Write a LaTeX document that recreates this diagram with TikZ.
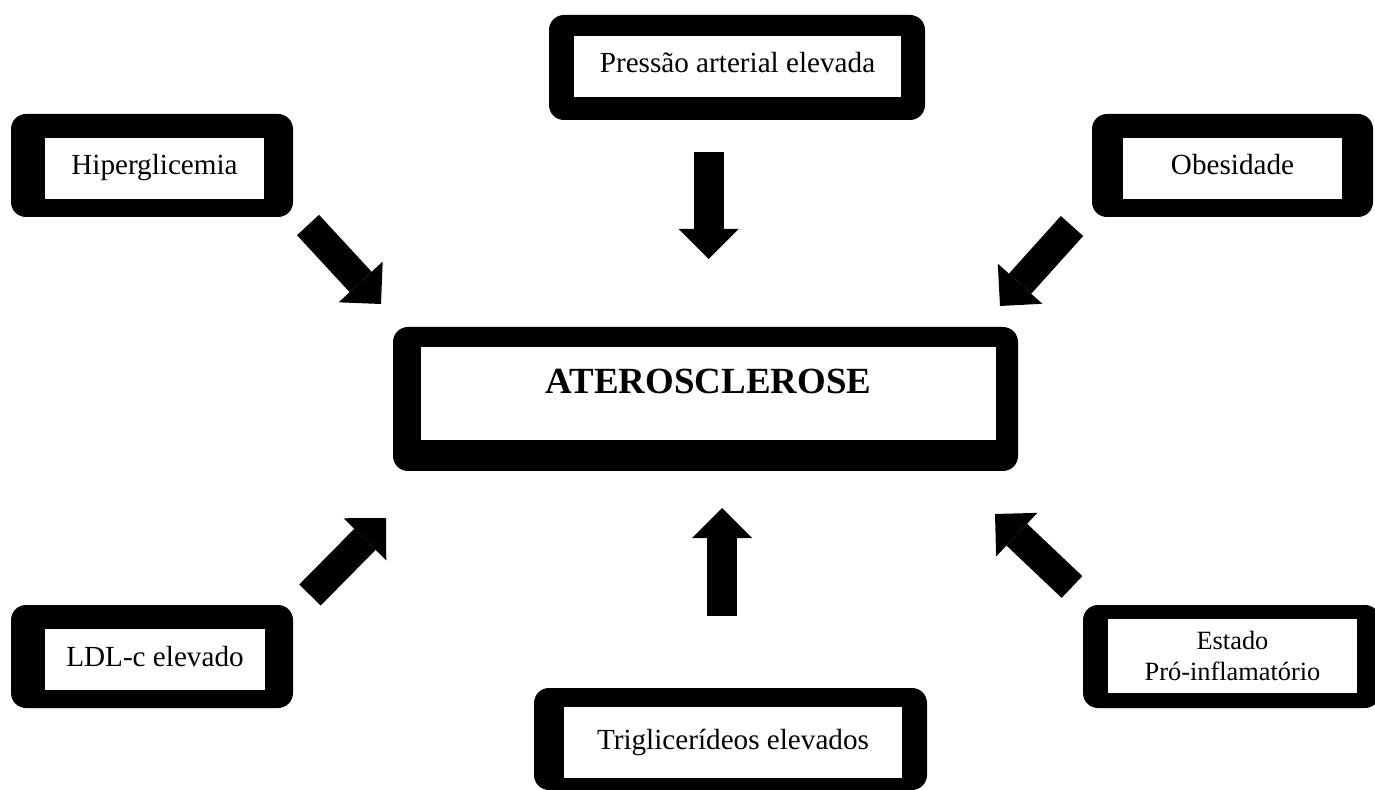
\documentclass[tikz,border=0pt]{standalone}
\usepackage{fontspec}
\setmainfont{Liberation Serif}
\usetikzlibrary{arrows.meta}

\begin{document}
\begin{tikzpicture}[
    frame/.style={fill=black, rounded corners=0.3cm},
    txtbox/.style={fill=white, inner sep=0pt, font=\fontsize{16.6}{19}\selectfont},
    oneline/.style={txtbox, text height=0.41cm, text depth=0.15cm},
    bigarrow/.style={line width=0.6cm, -{Triangle[length=0.6cm, width=1.2cm, line width=0pt]}}
]
    \useasboundingbox (0,0) rectangle (27.5,15.78);

    % centre box
    \fill[frame] (7.86,6.36) rectangle (20.36,9.24);
    \node[txtbox, minimum width=11.5cm, minimum height=1.86cm, text height=0.93cm, text depth=0.93cm,
          font=\fontsize{21}{25}\selectfont\bfseries] (ath) at (14.17,7.91) {ATEROSCLEROSE};

    % causes
    \fill[frame] (0.22,11.44) rectangle (5.86,13.50);
    \node[oneline, minimum width=4.38cm, minimum height=1.22cm] (hip) at (3.09,12.41) {Hiperglicemia};

    \fill[frame] (10.98,13.38) rectangle (18.50,15.48);
    \node[oneline, minimum width=6.54cm, minimum height=1.22cm] (pres) at (14.75,14.45) {Pressão arterial elevada};

    \fill[frame] (21.84,11.44) rectangle (27.46,13.50);
    \node[oneline, minimum width=4.38cm, minimum height=1.22cm] (obes) at (24.65,12.41) {Obesidade};

    \fill[frame] (0.22,1.62) rectangle (5.86,3.68);
    \node[oneline, minimum width=4.40cm, minimum height=1.22cm] (ldl) at (3.10,2.59) {LDL-c elevado};

    \fill[frame] (10.68,-0.02) rectangle (18.54,2.02);
    \node[oneline, minimum width=6.76cm, minimum height=1.42cm] (tri) at (14.66,0.93) {Triglicerídeos elevados};

    \fill[frame] (21.66,1.62) rectangle (27.60,3.68);
    \node[txtbox, align=center, font=\fontsize{15}{17.1}\selectfont,
          minimum width=4.98cm, minimum height=1.48cm] (est) at (24.65,2.66) {Estado\\Pró-inflamatório};

    % arrows
    \coordinate (hipS) at (6.16,11.28);   \coordinate (hipE) at (7.62,9.70);
    \coordinate (presS) at (14.17,12.74); \coordinate (presE) at (14.17,10.60);
    \coordinate (obesS) at (21.44,11.26); \coordinate (obesE) at (20.00,9.66);
    \coordinate (ldlS) at (6.20,3.88);    \coordinate (ldlE) at (7.72,5.42);
    \coordinate (triS) at (14.44,3.46);   \coordinate (triE) at (14.44,5.62);
    \coordinate (estS) at (21.44,4.04);   \coordinate (estE) at (19.90,5.50);

    \draw[bigarrow] (hipS) -- (hipE);
    \draw[bigarrow] (presS) -- (presE);
    \draw[bigarrow] (obesS) -- (obesE);
    \draw[bigarrow] (ldlS) -- (ldlE);
    \draw[bigarrow] (triS) -- (triE);
    \draw[bigarrow] (estS) -- (estE);
\end{tikzpicture}
\end{document}
